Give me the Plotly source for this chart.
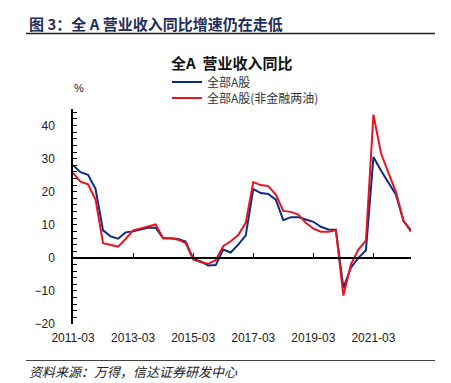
import plotly.graph_objects as go

quarters = [f"{y}-{m:02d}" for y in range(2011, 2023) for m in (3, 6, 9, 12)][:46]

all_a = [28.0, 25.9, 25.1, 20.9, 8.3, 6.5, 5.8, 7.7, 8.0, 8.6, 9.1, 9.1, 5.9, 5.9, 5.7, 4.9,
         -0.3, -1.1, -2.3, -2.2, 2.5, 1.6, 4.0, 6.8, 20.8, 19.6, 19.3, 17.6, 11.4, 12.3, 12.3, 11.6,
         10.9, 9.4, 8.6, 8.5, -9.1, -3.0, 0.0, 2.3, 30.5, 26.4, 22.7, 19.1, 11.1, 8.3]
ex_fin_oil = [25.7, 23.0, 22.2, 17.6, 4.4, 3.9, 3.4, 5.7, 8.3, 8.9, 9.6, 10.1, 5.9, 5.9, 5.5, 4.5,
              -0.5, -1.3, -1.8, -0.7, 3.5, 5.0, 6.9, 10.6, 22.9, 22.0, 21.7, 19.1, 14.2, 13.9, 13.1, 10.6,
              8.8, 7.9, 7.9, 8.3, -11.4, -2.0, 2.5, 5.2, 43.3, 31.7, 25.7, 19.9, 11.3, 7.9]

series_names = ["全部A股", "全部A股(非金融两油)"]
x_tick_labels = ["2011-03", "2013-03", "2015-03", "2017-03", "2019-03", "2021-03"]
y_ticks = [-20, -10, 0, 10, 20, 30, 40]

BLUE = "#0b2c86"
RED = "#e8141e"

OFF = 8  # page body margin offset
W, H = 451, 383
X0, X1, Y0, Y1 = 73, 411, 109, 324  # plot area in screen pixels
L, T = X0 - OFF, Y0 - OFF
R, B = W - (X1 - OFF), H - (Y1 - OFF)
pw, ph = X1 - X0, Y1 - Y0


def px(xp):
    return (xp - X0) / pw


def py(yp):
    return (Y1 - yp) / ph


fig = go.Figure()
fig.add_trace(go.Scatter(x=quarters, y=all_a, mode="lines", name=series_names[0],
                         line=dict(color=BLUE, width=2), legend="legend"))
fig.add_trace(go.Scatter(x=quarters, y=ex_fin_oil, mode="lines", name=series_names[1],
                         line=dict(color=RED, width=2), legend="legend2"))
# helper trace so the zero-line axis is drawn
fig.add_trace(go.Scatter(x=quarters, y=all_a, xaxis="x2", mode="lines", opacity=0,
                         showlegend=False, hoverinfo="skip"))

yr = [-20, 45]
zero_pos = (0 - yr[0]) / (yr[1] - yr[0])

leg_font = dict(family="Noto Sans CJK SC", size=12, color="#333")
fig.update_layout(
    width=W, height=H,
    margin=dict(l=L, r=R, t=T, b=B),
    paper_bgcolor="white", plot_bgcolor="white",
    font=dict(family="Liberation Sans, Arial, sans-serif", color="#222"),
    showlegend=True,
    legend=dict(x=px(167), y=py(82), xanchor="left", yanchor="middle",
                font=leg_font, bgcolor="rgba(0,0,0,0)", itemwidth=30),
    legend2=dict(x=px(167), y=py(98), xanchor="left", yanchor="middle",
                 font=leg_font, bgcolor="rgba(0,0,0,0)", itemwidth=30),
    xaxis=dict(type="category", range=[0, 45], tickmode="array",
               tickvals=x_tick_labels, ticktext=x_tick_labels,
               showline=False, showgrid=False, zeroline=False,
               ticks="outside", ticklen=3, tickcolor="rgba(0,0,0,0)",
               tickfont=dict(size=12, color="#222")),
    xaxis2=dict(type="category", range=[0, 45], overlaying="x", anchor="free",
                position=zero_pos, tickmode="array", tickvals=x_tick_labels,
                showticklabels=False, showline=True, linecolor="black", linewidth=1.5,
                ticks="inside", ticklen=4, tickcolor="black", tickwidth=1,
                showgrid=False, zeroline=False),
    yaxis=dict(range=yr, tickmode="array", tickvals=y_ticks,
               showline=True, linecolor="black", linewidth=1.5,
               ticks="inside", ticklen=4, tickcolor="black", tickwidth=1,
               minor=dict(dtick=2, tick0=0, ticks="inside", ticklen=4, tickcolor="black", tickwidth=1),
               showgrid=False, zeroline=False, ticklabelstandoff=14,
               tickfont=dict(size=12, color="#222")),
)

annotations = [
    dict(text="图 3：全 A 营业收入同比增速仍在走低", x=px(27), y=py(23), xanchor="left", yanchor="middle",
         font=dict(family="Noto Sans CJK SC", size=15, color="#1f2d5a", weight="bold")),
    dict(text="<b>全A  营业收入同比</b>", x=px(231), y=py(63), xanchor="center", yanchor="middle",
         font=dict(family="Noto Sans CJK SC", size=15, color="#111")),
    dict(text="%", x=px(79), y=py(88), xanchor="center", yanchor="middle",
         font=dict(family="Liberation Sans", size=11, color="#222")),
    dict(text="<i>资料来源：万得，信达证券研发中心</i>", x=px(27), y=py(371), xanchor="left", yanchor="middle",
         font=dict(family="Noto Sans CJK SC", size=13, color="#222")),
]
for a in annotations:
    a.update(xref="paper", yref="paper", showarrow=False)
fig.update_layout(annotations=annotations)

fig.update_layout(shapes=[
    dict(type="line", xref="paper", yref="paper", x0=px(26), x1=px(435), y0=py(33.5), y1=py(33.5),
         line=dict(color="#222", width=1.5)),
    dict(type="line", xref="paper", yref="paper", x0=px(26), x1=px(435), y0=py(360.5), y1=py(360.5),
         line=dict(color="#444", width=1)),
])

fig.write_html("out.html")
